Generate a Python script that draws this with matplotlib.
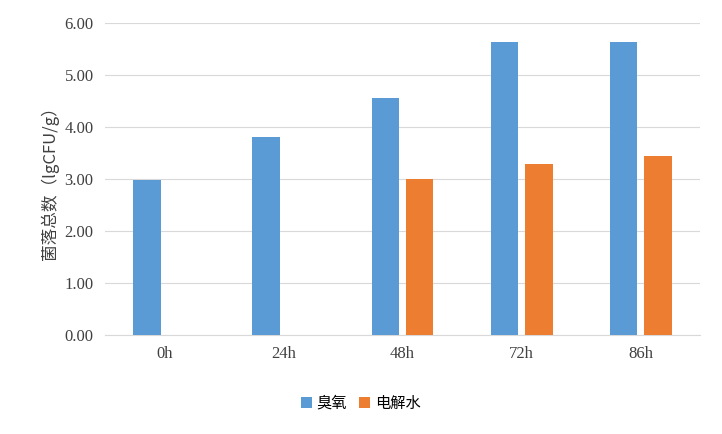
import matplotlib
matplotlib.use("Agg")
import matplotlib.pyplot as plt
import numpy as np

categories = ["0h", "24h", "48h", "72h", "86h"]
ozone = [2.98, 3.80, 4.55, 5.62, 5.62]
water = [0, 0, 3.00, 3.28, 3.44]
series_names = ["臭氧", "电解水"]

plt.rcParams['font.family'] = ['Liberation Serif', 'Noto Sans CJK SC']
fig = plt.figure(figsize=(7.22, 4.34), dpi=100)
ax = fig.add_axes([0.145, 0.228, 0.825, 0.72])
x = np.arange(len(categories))
w = 0.23
ax.bar(x - 0.145, ozone, w, color="#5B9BD5", label=series_names[0], zorder=3)
ax.bar(x + 0.145, water, w, color="#ED7D31", label=series_names[1], zorder=3)
ax.set_xlim(-0.5, 4.5)
ax.set_ylim(0, 6)
ax.set_yticks(np.arange(0, 6.01, 1))
ax.set_yticklabels([f"{v:.2f}" for v in np.arange(0, 6.01, 1)])
ax.set_xticks(x)
ax.set_xticklabels(categories)
ax.tick_params(length=0, labelsize=12, colors="#404040", pad=8)
ax.grid(axis="y", color="#D9D9D9", lw=0.8, zorder=0)
for s in ["top", "right", "left"]:
    ax.spines[s].set_visible(False)
ax.spines["bottom"].set_color("#D9D9D9")
ax.set_ylabel("菌落总数（lgCFU/g）", fontsize=12, color="#404040",
              family=['Noto Sans CJK SC', 'Liberation Serif'])
fig.legend(loc="lower center", bbox_to_anchor=(0.5, 0.02), ncol=2, frameon=False,
           prop={'family': ['Noto Sans CJK SC'], 'size': 11},
           handlelength=0.7, handleheight=0.7, columnspacing=0.8, handletextpad=0.3)
fig.savefig("out.png", dpi=100)
